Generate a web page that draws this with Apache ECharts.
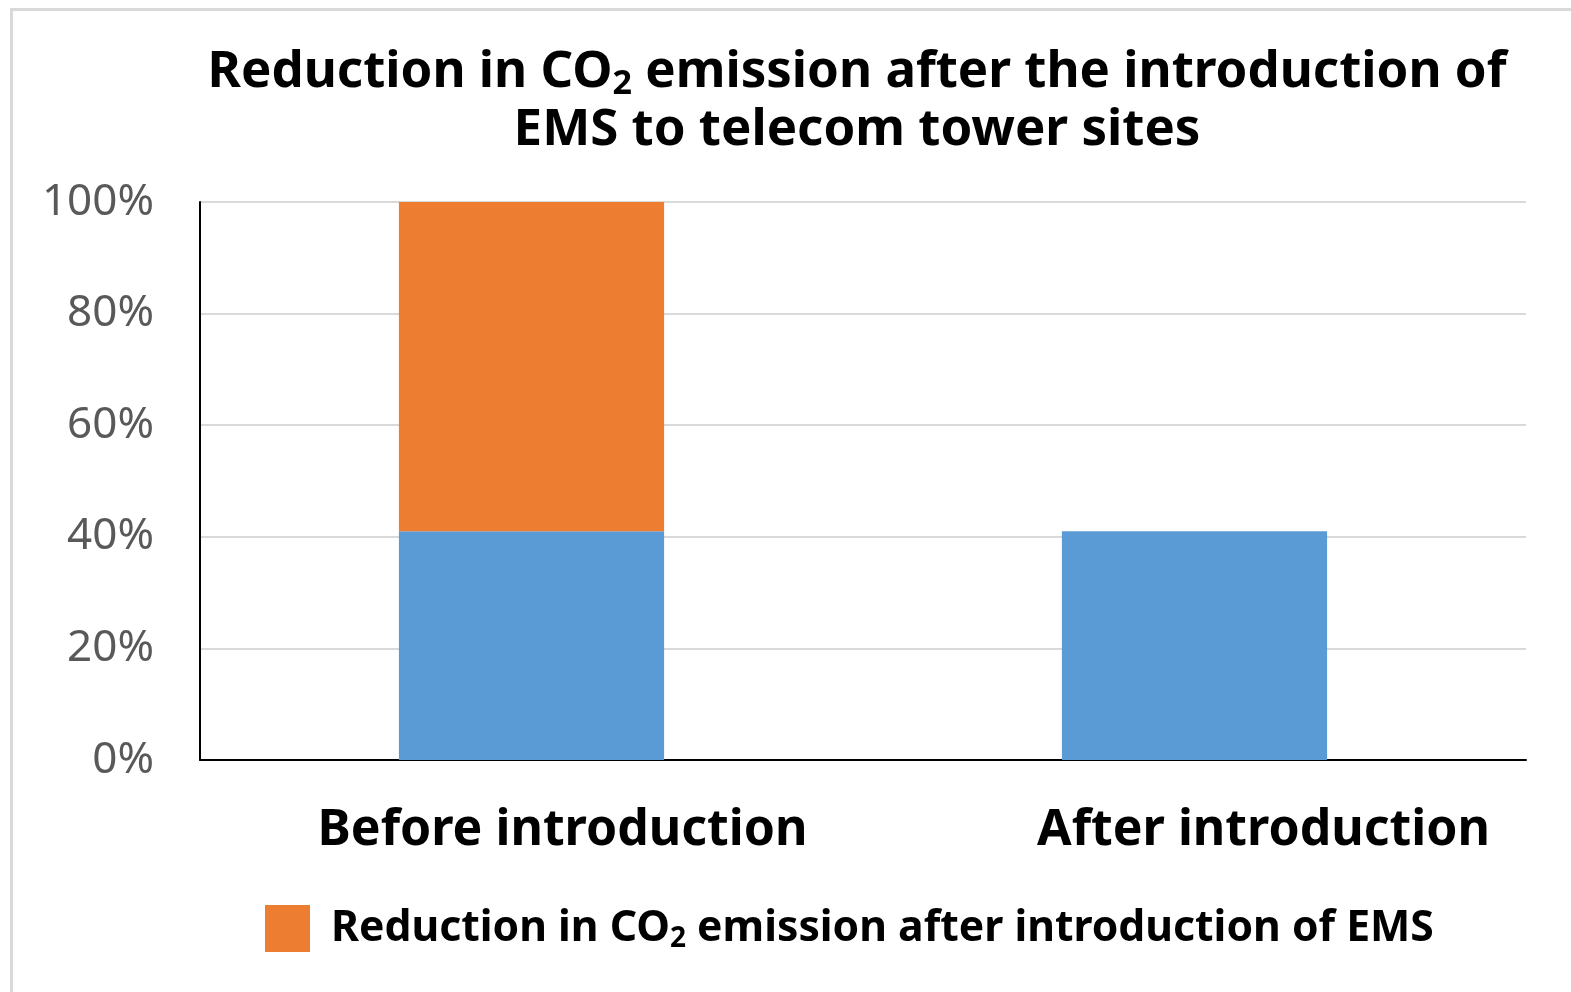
<!DOCTYPE html>
<html><head><meta charset="utf-8">
<script src="https://cdn.jsdelivr.net/npm/echarts@6/dist/echarts.min.js"></script>
<style>html,body{margin:0;padding:0;background:#fff}#c{width:1571px;height:992px}</style>
</head><body><div id="c"></div>
<script>
const categories = ['Before introduction', 'After introduction'];
const afterValues = [41, 41];
const reductionValues = [59, '-'];
const yTicks = [0, 20, 40, 60, 80, 100];
const seriesNames = ['Remaining emission', 'Reduction in CO2 emission after introduction of EMS'];

const chart = echarts.init(document.getElementById('c'));
const F = '"Noto Sans", sans-serif';
const TS = 51;
const titleRich = {
  m: { fontFamily: F, fontWeight: 'bold', fontSize: TS, color: '#000', lineHeight: 58 },
  s: { fontFamily: F, fontWeight: 'bold', fontSize: 34, color: '#000', lineHeight: 30, verticalAlign: 'bottom' }
};
chart.setOption({
  animation: false,
  backgroundColor: '#fff',
  graphic: [{
    type: 'rect', left: 9, top: 7, silent: true,
    shape: { width: 1600, height: 1020 },
    style: { fill: 'none', stroke: '#d9d9d9', lineWidth: 3 }
  }],
  title: [{
    left: 852, top: 38, textAlign: 'center',
    text: '{m|Reduction in CO}{s|2}{m| emission after the introduction of}',
    textStyle: { fontFamily: F, fontWeight: 'bold', fontSize: TS, color: '#000', rich: titleRich }
  }, {
    left: 852, top: 96, textAlign: 'center',
    text: '{m|EMS to telecom tower sites}',
    textStyle: { fontFamily: F, fontWeight: 'bold', fontSize: TS, color: '#000', rich: titleRich }
  }],
  legend: {
    data: [seriesNames[1]],
    left: 260, top: 900,
    itemWidth: 45, itemHeight: 47, itemGap: 20,
    icon: 'rect',
    formatter: () => '{m|Reduction in CO}{s|2}{m| emission after introduction of EMS}',
    textStyle: {
      fontFamily: F, fontWeight: 'bold', fontSize: 42.7, color: '#000', padding: [0, 0, 0, 16],
      rich: {
        m: { fontFamily: F, fontWeight: 'bold', fontSize: 42.7, color: '#000', lineHeight: 50 },
        s: { fontFamily: F, fontWeight: 'bold', fontSize: 28, color: '#000', lineHeight: 26, verticalAlign: 'bottom' }
      }
    }
  },
  grid: { left: 200, right: 45, top: 202, bottom: 232, containLabel: false },
  xAxis: {
    type: 'category', data: categories,
    axisLine: { show: true, lineStyle: { color: '#000', width: 2 } },
    axisTick: { show: false },
    axisLabel: {
      interval: 0,
      margin: 46,
      fontFamily: F, fontWeight: 'bold', fontSize: 50, color: '#000',
      formatter: (v, i) => i === 0 ? '{a|' + v + '}' : '{b|' + v + '}',
      rich: {
        a: { fontFamily: F, fontWeight: 'bold', fontSize: 50, color: '#000', padding: [0, 0, 0, 62] },
        b: { fontFamily: F, fontWeight: 'bold', fontSize: 50, color: '#000', padding: [0, 0, 6, 138] }
      }
    }
  },
  yAxis: {
    type: 'value', min: 0, max: 100, interval: 20,
    axisLine: { show: true, lineStyle: { color: '#000', width: 2 } },
    axisTick: { show: false },
    splitLine: { lineStyle: { color: '#d9d9d9', width: 2 } },
    axisLabel: {
      margin: 46, fontFamily: F, fontSize: 44, color: '#595959',
      formatter: v => yTicks.includes(v) ? v + '%' : ''
    }
  },
  series: [
    { name: seriesNames[0], type: 'bar', stack: 'a', data: afterValues, barWidth: '40%', itemStyle: { color: '#5B9BD5' } },
    { name: seriesNames[1], type: 'bar', stack: 'a', data: reductionValues, barWidth: '40%', itemStyle: { color: '#ED7D31' } }
  ]
});
</script></body></html>
